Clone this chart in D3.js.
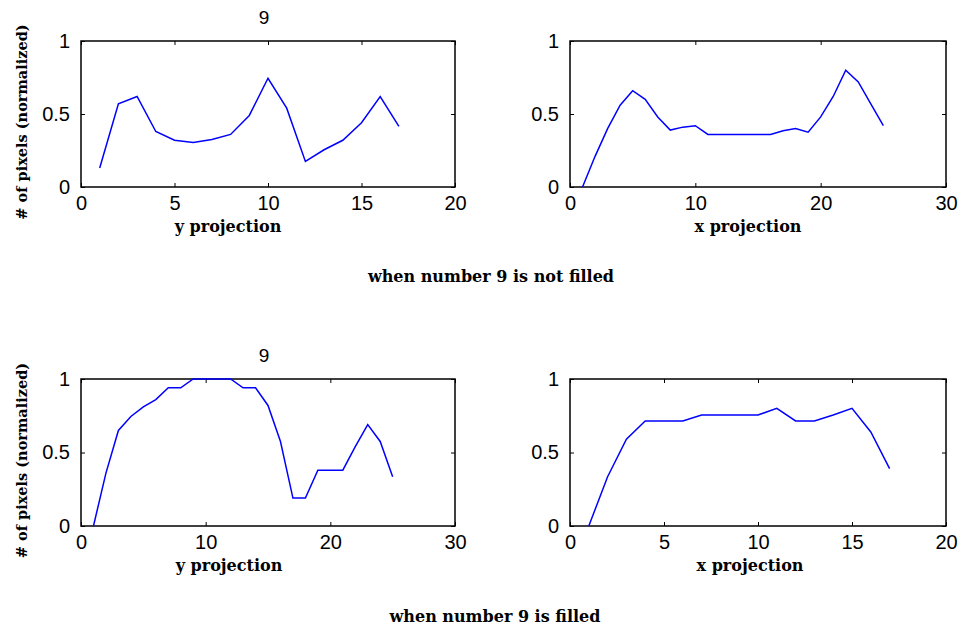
<!DOCTYPE html>
<html>
<head>
<meta charset="utf-8">
<script src="https://cdn.jsdelivr.net/npm/d3@7"></script>
<style>
  body { margin: 0; background: #fff; }
  .tick text { font-family: "Liberation Sans", Arial, sans-serif; font-size: 20px; fill: #000; }
  .tick line { stroke: #000; }
  .lbl { font-family: "DejaVu Serif", serif; font-weight: bold; fill: #000; }
</style>
</head>
<body>
<svg id="chart" width="961" height="630"></svg>
<script>
// number 9, not filled
var notFilledY = [0.13,0.57,0.62,0.38,0.32,0.305,0.325,0.36,0.49,0.745,0.54,0.175,0.255,0.32,0.44,0.62,0.415]
var notFilledX = [0,0.21,0.40,0.56,0.66,0.60,0.48,0.39,0.41,0.42,0.36,0.36,0.36,0.36,0.36,0.36,0.385,0.40,0.375,0.48,0.62,0.80,0.72,0.57,0.42]
// number 9, filled
var filledY = [0,0.36,0.65,0.745,0.81,0.86,0.94,0.94,1,1,1,1,0.94,0.94,0.82,0.575,0.19,0.19,0.38,0.38,0.38,0.54,0.69,0.575,0.335]
var filledX = [0,0.335,0.59,0.715,0.715,0.715,0.755,0.755,0.755,0.755,0.80,0.715,0.715,0.755,0.80,0.64,0.39]

var ticks20 = [0,5,10,15,20]
    ticks30 = [0,10,20,30]
    yTicks = [0,0.5,1]

var svg = d3.select('#chart')

// one subplot, matlab style box with inward ticks
function drawPanel(p){
  var x = d3.scaleLinear().domain([0, d3.max(p.xticks)]).range([p.left, p.right])
  var y = d3.scaleLinear().domain([0,1]).range([p.bottom, p.top])

  var g = svg.append('g')

  g.append('rect')
    .attr('x', p.left).attr('y', p.top)
    .attr('width', p.right - p.left).attr('height', p.bottom - p.top)
    .attr('fill', 'none').attr('stroke', '#000').attr('stroke-width', 1.5)

  g.append('g').attr('transform', 'translate(0,' + p.bottom + ')')
    .call(d3.axisBottom(x).tickValues(p.xticks).tickSize(-4).tickPadding(9))
  g.append('g').attr('transform', 'translate(0,' + p.top + ')')
    .call(d3.axisTop(x).tickValues(p.xticks).tickSize(-4).tickFormat(''))
  g.append('g').attr('transform', 'translate(' + p.left + ',0)')
    .call(d3.axisLeft(y).tickValues(yTicks).tickSize(-4).tickPadding(11).tickFormat(d3.format('')))
  g.append('g').attr('transform', 'translate(' + p.right + ',0)')
    .call(d3.axisRight(y).tickValues(yTicks).tickSize(-4).tickFormat(''))
  g.selectAll('.domain').remove()

  var line = d3.line()
    .x(function(d,i){return x(i + 1)})
    .y(function(d){return y(d)})
  g.append('path')
    .datum(p.values)
    .attr('d', line)
    .attr('fill', 'none')
    .attr('stroke', '#0000ff')
    .attr('stroke-width', 1.5)

  g.append('text').attr('class','lbl')
    .attr('x', p.xlabelX).attr('y', p.bottom + 45)
    .attr('text-anchor','middle').style('font-size','16px')
    .text(p.xlabel)

  if(p.title){
    g.append('text')
      .attr('x', (p.left + p.right) / 2 - 4).attr('y', p.top - 17)
      .attr('text-anchor','middle')
      .style('font-family','"Liberation Sans", Arial, sans-serif').style('font-size','19px')
      .text(p.title)
    g.append('text').attr('class','lbl')
      .attr('transform', 'translate(27,' + ((p.top + p.bottom) / 2 + 8) + ') rotate(-90)')
      .attr('text-anchor','middle').style('font-size','14.5px')
      .text('# of pixels (normalized)')
  }
}

drawPanel({left:81, right:455, top:41, bottom:187, xticks:ticks20, values:notFilledY, xlabel:'y projection', xlabelX:228, title:'9'})
drawPanel({left:570, right:946, top:41, bottom:187, xticks:ticks30, values:notFilledX, xlabel:'x projection', xlabelX:748})
drawPanel({left:81, right:455, top:379, bottom:526, xticks:ticks30, values:filledY, xlabel:'y projection', xlabelX:229, title:'9'})
drawPanel({left:570, right:946, top:379, bottom:526, xticks:ticks20, values:filledX, xlabel:'x projection', xlabelX:750})

svg.append('text').attr('class','lbl')
  .attr('x', 491).attr('y', 282).attr('text-anchor','middle').style('font-size','16px')
  .text('when number 9 is not filled')
svg.append('text').attr('class','lbl')
  .attr('x', 495).attr('y', 622).attr('text-anchor','middle').style('font-size','16px')
  .text('when number 9 is filled')
</script>
</body>
</html>
